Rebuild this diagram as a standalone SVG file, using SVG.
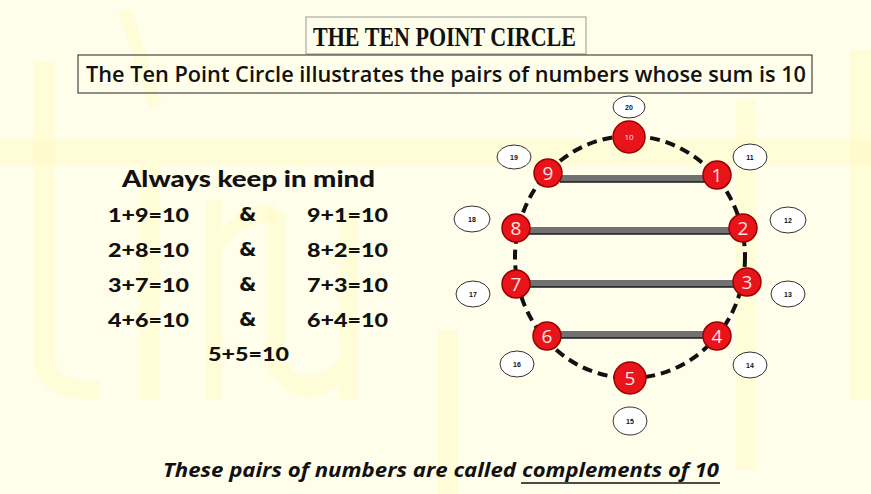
<svg xmlns="http://www.w3.org/2000/svg" width="871" height="494" viewBox="0 0 871 494">
<style>
.wm{fill:#fffac8;opacity:0.55}
.title{font-family:"Liberation Serif",serif;font-weight:bold;font-size:28px;fill:#111}
.sub{font-family:"Open Sans","Noto Sans",sans-serif;font-weight:600;font-size:22px;fill:#111}
.goth{font-family:Lato,"DejaVu Sans",sans-serif;font-weight:900;fill:#111}
.eq{font-size:18px}
.amp{font-family:"DejaVu Sans",sans-serif;font-weight:bold;font-size:20px;fill:#111}
.node circle{fill:#e8141a;stroke:#9a0000;stroke-width:1.5}
.node text{font-family:"Open Sans","Noto Sans",sans-serif;font-size:19px;fill:#ffe4e4;text-anchor:middle}
.lab ellipse{fill:#ffffff;stroke:#333;stroke-width:1}
.lab text{font-family:"Liberation Sans",sans-serif;font-weight:bold;font-size:7px;fill:#111;text-anchor:middle}
.bar{fill:#717171}
.barline{stroke:#1a1a1a;stroke-width:1.5}
.foot{font-family:"Open Sans","Noto Sans",sans-serif;font-weight:bold;font-style:italic;font-size:20px;fill:#111}
</style>
<rect x="0" y="0" width="871" height="494" fill="#fffeea"/>
<g id="watermark">
<rect class="wm" x="0" y="139" width="871" height="26"/>
<path class="wm" d="M33 62 L55 62 L55 360 Q60 385 100 380 L100 398 Q45 405 33 365 Z"/>
<path class="wm" d="M118 12 L132 10 L162 105 L150 108 Z"/>
<rect class="wm" x="140" y="165" width="20" height="235"/>
<path class="wm" d="M205 200 L222 200 L222 400 L205 400 Z M222 230 Q245 200 275 205 L275 222 Q240 222 222 250 Z"/>
<path class="wm" d="M268 210 L285 210 L285 360 Q300 390 340 360 L340 210 L357 210 L357 400 L340 400 L340 385 Q300 415 268 370 Z"/>
<rect class="wm" x="438" y="330" width="20" height="164"/>
<rect class="wm" x="736" y="100" width="20" height="370"/>
<rect class="wm" x="850" y="50" width="21" height="350"/>
</g>
<g id="title">
<rect x="306" y="17" width="280" height="37" fill="none" stroke="#999" stroke-width="1"/>
<text class="title" x="313" y="46" textLength="263" lengthAdjust="spacingAndGlyphs">THE TEN POINT CIRCLE</text>
</g>
<g id="subtitle">
<rect x="78" y="55" width="734" height="38" fill="none" stroke="#222" stroke-width="1"/>
<text class="sub" x="86" y="82" textLength="720" lengthAdjust="spacingAndGlyphs">The Ten Point Circle illustrates the pairs of numbers whose sum is 10</text>
</g>
<g id="mind">
<text class="goth" x="122" y="187" font-size="22" textLength="253" lengthAdjust="spacingAndGlyphs">Always keep in mind</text>
<text class="goth eq" x="108" y="222" textLength="81" lengthAdjust="spacingAndGlyphs">1+9=10</text>
<text class="amp" x="239" y="221">&amp;</text>
<text class="goth eq" x="307" y="222" textLength="81" lengthAdjust="spacingAndGlyphs">9+1=10</text>
<text class="goth eq" x="108" y="257" textLength="81" lengthAdjust="spacingAndGlyphs">2+8=10</text>
<text class="amp" x="239" y="256">&amp;</text>
<text class="goth eq" x="307" y="257" textLength="81" lengthAdjust="spacingAndGlyphs">8+2=10</text>
<text class="goth eq" x="108" y="292" textLength="81" lengthAdjust="spacingAndGlyphs">3+7=10</text>
<text class="amp" x="239" y="291">&amp;</text>
<text class="goth eq" x="307" y="292" textLength="81" lengthAdjust="spacingAndGlyphs">7+3=10</text>
<text class="goth eq" x="108" y="327" textLength="81" lengthAdjust="spacingAndGlyphs">4+6=10</text>
<text class="amp" x="239" y="326">&amp;</text>
<text class="goth eq" x="307" y="327" textLength="81" lengthAdjust="spacingAndGlyphs">6+4=10</text>
<text class="goth eq" x="208" y="361" textLength="81" lengthAdjust="spacingAndGlyphs">5+5=10</text>
</g>
<g id="connectors">
<ellipse cx="630" cy="257" rx="115" ry="121" fill="none" stroke="#111" stroke-width="4" stroke-dasharray="10 6"/>
<rect class="bar" x="560" y="175" width="145" height="7"/><line class="barline" x1="560" y1="182" x2="705" y2="182"/>
<rect class="bar" x="529" y="227" width="202" height="7"/><line class="barline" x1="529" y1="234" x2="731" y2="234"/>
<rect class="bar" x="529" y="280" width="205" height="7"/><line class="barline" x1="529" y1="287" x2="734" y2="287"/>
<rect class="bar" x="560" y="331" width="145" height="7"/><line class="barline" x1="560" y1="338" x2="705" y2="338"/>
</g>
<g id="n10" class="node"><circle cx="629" cy="137" r="16"/><text x="629" y="140" style="font-size:8px">10</text></g>
<g id="n1" class="node"><circle cx="717" cy="175" r="14"/><text x="717" y="182">1</text></g>
<g id="n2" class="node"><circle cx="743" cy="228" r="14"/><text x="743" y="235">2</text></g>
<g id="n3" class="node"><circle cx="747" cy="282" r="14"/><text x="747" y="289">3</text></g>
<g id="n4" class="node"><circle cx="717" cy="336" r="14"/><text x="717" y="343">4</text></g>
<g id="n5" class="node"><circle cx="630" cy="378" r="16"/><text x="630" y="385">5</text></g>
<g id="n6" class="node"><circle cx="547" cy="336" r="14"/><text x="547" y="343">6</text></g>
<g id="n7" class="node"><circle cx="516" cy="284" r="14"/><text x="516" y="291">7</text></g>
<g id="n8" class="node"><circle cx="516" cy="228" r="14"/><text x="516" y="235">8</text></g>
<g id="n9" class="node"><circle cx="548" cy="173" r="14"/><text x="548" y="180">9</text></g>
<g id="l20" class="lab"><ellipse cx="629" cy="107" rx="16" ry="11"/><text x="629" y="110">20</text></g>
<g id="l11" class="lab"><ellipse cx="750" cy="157" rx="17" ry="13"/><text x="750" y="160">11</text></g>
<g id="l12" class="lab"><ellipse cx="788" cy="220" rx="18" ry="13"/><text x="788" y="223">12</text></g>
<g id="l13" class="lab"><ellipse cx="788" cy="294" rx="17" ry="13"/><text x="788" y="297">13</text></g>
<g id="l14" class="lab"><ellipse cx="750" cy="365" rx="17" ry="13"/><text x="750" y="368">14</text></g>
<g id="l15" class="lab"><ellipse cx="630" cy="421" rx="17" ry="14"/><text x="630" y="424">15</text></g>
<g id="l16" class="lab"><ellipse cx="517" cy="364" rx="17" ry="13"/><text x="517" y="367">16</text></g>
<g id="l17" class="lab"><ellipse cx="473" cy="294" rx="17" ry="13"/><text x="473" y="297">17</text></g>
<g id="l18" class="lab"><ellipse cx="472" cy="219" rx="18" ry="13"/><text x="472" y="222">18</text></g>
<g id="l19" class="lab"><ellipse cx="514" cy="157" rx="17" ry="12"/><text x="514" y="160">19</text></g>
<g id="footer">
<text class="foot" x="163" y="477" textLength="353" lengthAdjust="spacingAndGlyphs">These pairs of numbers are called</text>
<text class="foot" x="522" y="477" textLength="197" lengthAdjust="spacingAndGlyphs">complements of 10</text>
<line x1="521" y1="483" x2="720" y2="483" stroke="#111" stroke-width="1.5"/>
</g>
</svg>
